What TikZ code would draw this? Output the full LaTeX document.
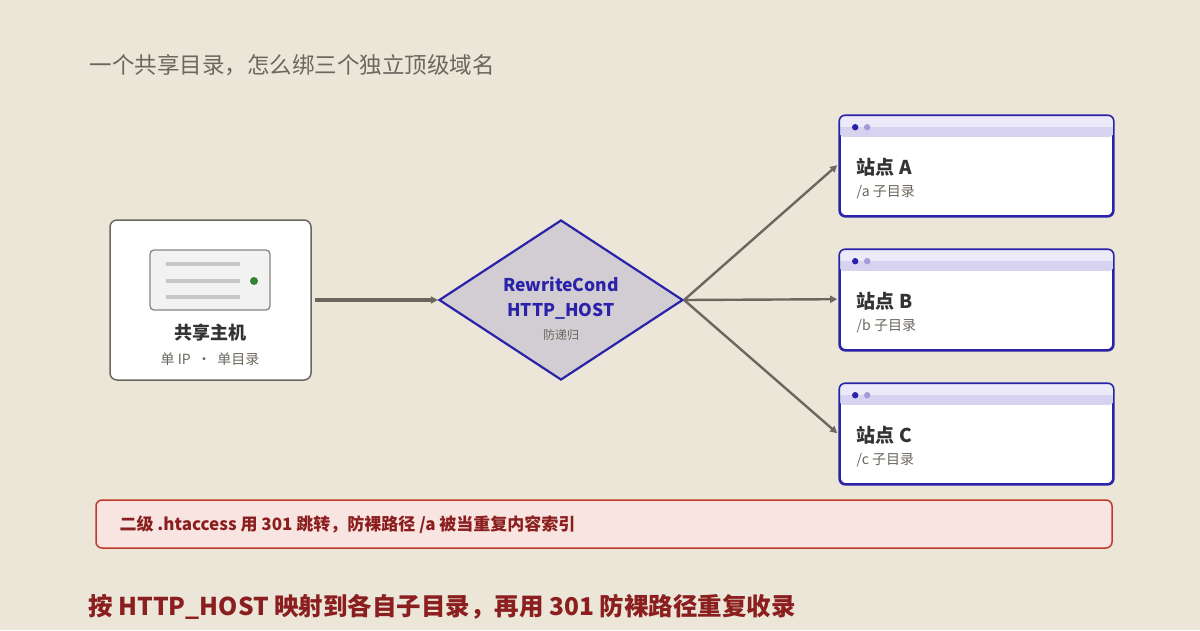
\documentclass[tikz,border=0pt]{standalone}
\usepackage{fontspec}
\setmainfont{Noto Sans CJK SC}
\usetikzlibrary{arrows.meta,shapes.geometric}
\definecolor{bg}{HTML}{EBE6D8}
\definecolor{ink}{HTML}{6B675E}
\definecolor{blu}{HTML}{2A22A8}
\definecolor{lav}{HTML}{ECEAF8}
\definecolor{lav2}{HTML}{D6D2F0}
\definecolor{dred}{HTML}{8B1F1F}
\definecolor{rbd}{HTML}{C0392B}
\definecolor{rfill}{HTML}{F8E4E0}
\tikzset{
  conn/.style={draw=ink,line width=2.4pt,-{Triangle[length=7pt,width=7pt]}},
  site/.style={draw=blu,line width=1.6pt,rounded corners=6pt,fill=white,minimum width=273pt,minimum height=100pt,inner sep=0},
  sub/.style={text=ink,font=\fontsize{14}{16}\selectfont,anchor=west},
  ttl/.style={text=black!80,font=\bfseries\fontsize{19}{22}\selectfont,anchor=west}
}
\begin{document}
\begin{tikzpicture}[x=1pt,y=-1pt]
\fill[bg] (0,0) rectangle (1200,630);
\useasboundingbox (0,0) rectangle (1200,630);
\node[anchor=west,text=ink,font=\fontsize{22.5}{26}\selectfont] (title) at (86,65) {一个共享目录，怎么绑三个独立顶级域名};
% host
\node[draw=ink,line width=1.5pt,rounded corners=7pt,fill=white,minimum width=201pt,minimum height=160pt] (host) at (210.5,300) {};
\node[draw=ink!80,line width=1.3pt,rounded corners=4pt,fill=black!5,minimum width=120pt,minimum height=60pt] (srv) at (210,280) {};
\foreach \y in {264,281,297}{\draw[black!22,line width=3.5pt] (166,\y) -- (240,\y);}
\fill[green!40!black!80] (254,281) circle (4);
\node[font=\bfseries\fontsize{18}{20}\selectfont,text=black!80] (hl) at (210,333) {共享主机};
\node[font=\fontsize{14}{16}\selectfont,text=ink] (hs) at (210,359) {单 IP \ · \ 单目录};
% diamond
\node[diamond,draw=blu,line width=2.2pt,fill=black!12!bg!60!lav2,minimum width=244pt,minimum height=160pt,inner sep=0,aspect=1.525] (rw) at (561,300) {};
\node[text=blu,font=\bfseries\fontsize{17.5}{20}\selectfont] at (561,284) {RewriteCond};
\node[text=blu,font=\bfseries\fontsize{17.5}{20}\selectfont] at (561,311) {HTTP\_HOST};
\node[text=ink,font=\fontsize{12}{14}\selectfont] at (561,335) {防递归};
\draw[conn,line width=3.6pt] (host.east) ++(3,0) -- (rw.west);
% sites
\foreach \n/\y/\L/\l in {A/166/A/a,B/300/B/b,C/434/C/c}{
  \node[site] (s\n) at (976.5,\y) {};
  \begin{scope}
  \clip[rounded corners=6pt] (s\n.north west) rectangle ([yshift=-22pt]s\n.north east);
  \fill[lav] (s\n.north west) rectangle ([yshift=-22pt]s\n.north east);
  \fill[lav2] ([yshift=-12pt]s\n.north west) rectangle ([yshift=-22pt]s\n.north east);
  \end{scope}
  \draw[blu,line width=1.6pt,rounded corners=6pt] (s\n.north west) rectangle (s\n.south east);
  \fill[blu] ([xshift=16pt,yshift=-12pt]s\n.north west) circle (3.2);
  \fill[blu!45] ([xshift=28pt,yshift=-12pt]s\n.north west) circle (3.2);
  \node[ttl] at ([xshift=14pt,yshift=-52pt]s\n.north west) {站点 \L};
  \node[sub] at ([xshift=14pt,yshift=-77pt]s\n.north west) {/\l\ 子目录};
  \draw[conn] (rw.east) -- ([xshift=-2pt,yshift=-50pt]s\n.north west);
}
% note
\node[draw=rbd,line width=1.5pt,fill=rfill,rounded corners=6pt,minimum width=1016pt,minimum height=48pt] (note) at (604,524) {};
\node[anchor=west,text=dred,font=\bfseries\fontsize{17}{20}\selectfont] at (116,525) {二级 .htaccess 用 301 跳转，防裸路径 /a 被当重复内容索引};
\node[anchor=west,text=dred,font=\bfseries\fontsize{24.5}{28}\selectfont] (foot) at (85,607) {按 HTTP\_HOST 映射到各自子目录，再用 301 防裸路径重复收录};
\end{tikzpicture}
\end{document}
